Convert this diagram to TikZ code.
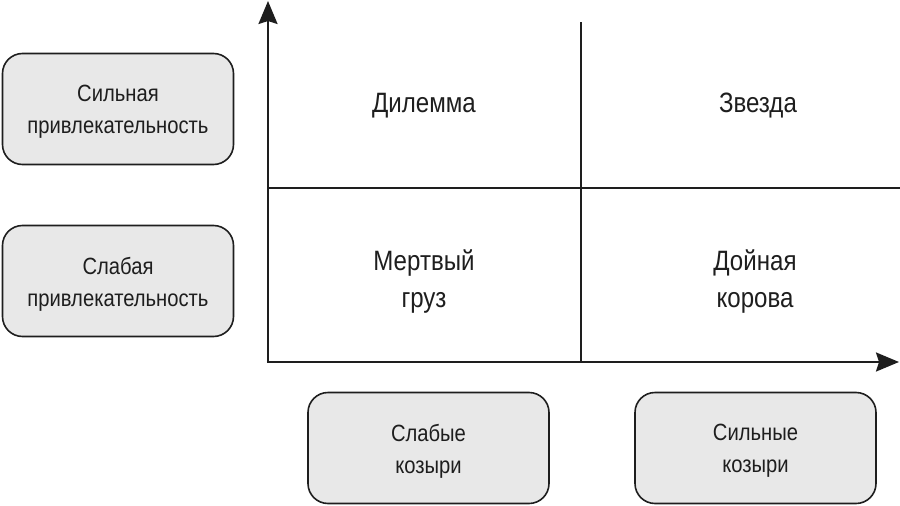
\documentclass[tikz,border=0pt]{standalone}
\usepackage{fontspec}
\setmainfont{Liberation Sans}[FakeStretch=0.86]
\usetikzlibrary{arrows.meta}
\definecolor{boxfill}{HTML}{E8E8E8}
\definecolor{ink}{HTML}{1E1E1E}
\tikzset{
  labelbox/.style={draw=ink, line width=1.6pt, fill=boxfill, rounded corners=20pt,
    minimum width=231pt, minimum height=111pt, inner sep=0pt},
  boxtext/.style={align=center, inner sep=0pt,
    font=\fontsize{23.5}{32}\selectfont, text=ink},
  quad/.style={align=center, font=\fontsize{28}{37}\selectfont, text=ink, inner sep=0pt},
  axis/.style={draw=ink, line width=2.4pt, -{Stealth[length=23pt,width=19pt,inset=3pt]}},
  divider/.style={draw=ink, line width=2pt},
}
\begin{document}
\begin{tikzpicture}[x=1pt,y=-1pt]
\useasboundingbox (0,0) rectangle (900,506);
\coordinate (O) at (268,362);
\coordinate (ytip) at (268,1);
\coordinate (xtip) at (899,362);
\coordinate (vtop) at (581,22);
\coordinate (vbot) at (581,362);
\coordinate (hl) at (268,188);
\coordinate (hr) at (900,188);
\draw[divider] (vtop) -- (vbot);
\draw[divider] (hl) -- (hr);
\draw[axis] (O) -- (ytip);
\draw[axis] ([xshift=-1.2pt]O) -- (xtip);

\node[labelbox] (b1) at (118,109) {};
\node[labelbox] (b2) at (118,281) {};
\node[labelbox, minimum width=241pt] (b3) at (428.5,448) {};
\node[labelbox, minimum width=241pt] (b4) at (755.5,448) {};
\node[boxtext] (t1) at ([yshift=-3pt]b1.center) {Сильная\\привлекательность};
\node[boxtext] (t2) at ([yshift=-3pt]b2.center) {Слабая\\привлекательность};
\node[boxtext] (t3) at ([yshift=-3pt]b3.center) {Слабые\\козыри};
\node[boxtext] (t4) at ([yshift=-3pt]b4.center) {Сильные\\козыри};

\node[quad] (q1) at (424,105.5) {Дилемма};
\node[quad] (q2) at (758,105.5) {Звезда};
\node[quad] (q3) at (424,281.5) {Мертвый\\груз};
\node[quad] (q4) at (755,281.5) {Дойная\\корова};
\end{tikzpicture}
\end{document}
